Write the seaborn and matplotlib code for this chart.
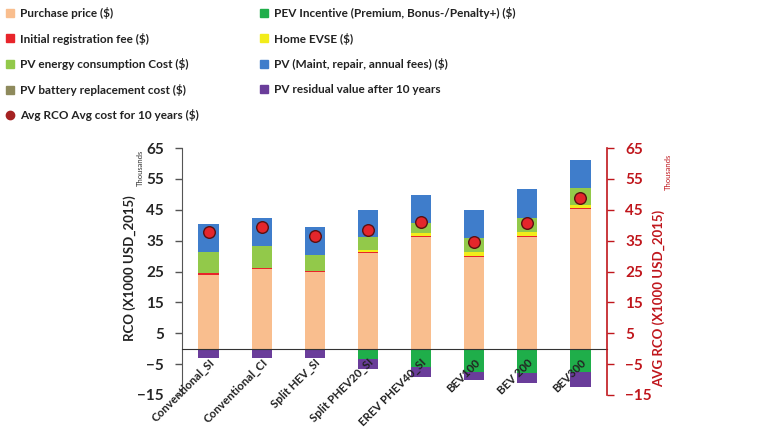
import numpy as np
import pandas as pd
import seaborn as sns
import matplotlib.pyplot as plt
from matplotlib.lines import Line2D

# vehicle types
vehicles = ['Conventional_SI', 'Conventional_CI', 'Split HEV_SI', 'Split PHEV20_SI',
            'EREV PHEV40_SI', 'BEV100', 'BEV 200', 'BEV300']

# cost components (thousand USD_2015)
purchase = [23.8, 25.7, 24.8, 30.9, 36.1, 29.7, 36.1, 45.4]
registration = [0.6, 0.5, 0.3, 0.3, 0.3, 0.3, 0.3, 0.3]
home_evse = [0.0, 0.0, 0.0, 0.9, 1.1, 1.3, 1.4, 0.7]
energy = [6.9, 7.2, 5.2, 4.0, 3.3, 4.6, 4.6, 5.7]
battery = [0.0, 0.0, 0.0, 0.0, 0.0, 0.0, 0.0, 0.0]
maint = [9.2, 9.0, 9.2, 8.7, 8.9, 8.9, 9.2, 8.9]
incentive = [0.0, 0.0, 0.0, -3.5, -5.8, -7.6, -7.8, -7.6]
residual = [-2.9, -2.9, -3.0, -3.0, -3.4, -2.5, -3.2, -4.7]
avg_rco = [37.8, 39.5, 36.5, 38.4, 41.0, 34.5, 40.6, 48.9]

c_purchase = '#F9BE8E'
c_reg = '#E8242A'
c_evse = '#F2EC1A'
c_energy = '#92C94A'
c_battery = '#8E8A5C'
c_maint = '#3F7DCB'
c_incent = '#1FAE4A'
c_resid = '#6A3D9A'
c_avg = '#A52222'
red_axis = '#C0161C'

sns.set_style('white')
plt.rcParams['font.family'] = ['Lato', 'DejaVu Sans']

fig = plt.figure(figsize=(7.69, 4.33), dpi=100)
ax = fig.add_axes([0.2367, 0.0878, 0.5526, 0.5702])
ax.set_axisbelow(False)

df = pd.DataFrame({'vehicle': vehicles})
bw = 0.38

# positive stack
bottom = np.zeros(len(vehicles))
for vals, col in [(purchase, c_purchase), (registration, c_reg), (home_evse, c_evse),
                  (energy, c_energy), (battery, c_battery), (maint, c_maint)]:
    vals = np.array(vals)
    sns.barplot(x=df['vehicle'], y=vals, bottom=bottom, color=col, width=bw,
                saturation=1, ax=ax, linewidth=0)
    bottom = bottom + vals

# negative stack
bottom = np.zeros(len(vehicles))
for vals, col in [(incentive, c_incent), (residual, c_resid)]:
    vals = np.array(vals)
    sns.barplot(x=df['vehicle'], y=vals, bottom=bottom, color=col, width=bw,
                saturation=1, ax=ax, linewidth=0)
    bottom = bottom + vals

ax.set_xlim(-0.5, len(vehicles) - 0.5)
ax.set_ylim(-15, 65)
ax.set_yticks(np.arange(-15, 66, 10))
ax.set_xlabel('')
ax.set_ylabel('')

for s in ['top', 'right']:
    ax.spines[s].set_visible(False)
ax.spines['bottom'].set_position(('data', 0))
ax.spines['bottom'].set_color('#333333')
ax.spines['left'].set_color('#555555')

ax.tick_params(axis='y', direction='out', length=5, width=1, color='#555555',
               labelsize=11, pad=8)
for t in ax.get_yticklabels():
    t.set_fontweight('bold')

ax.set_xticks(range(len(vehicles)))
ax.set_xticklabels(vehicles, rotation=45, ha='right', rotation_mode='anchor',
                   fontsize=8.3, fontweight='bold', color='#222222')
ax.tick_params(axis='x', which='major', length=0, pad=6)
ax.set_xticks(np.arange(0.5, len(vehicles) - 0.5, 1), minor=True)
ax.tick_params(axis='x', which='minor', direction='inout', length=5, width=1,
               color='#333333')

# secondary axis for average
ax2 = ax.twinx()
ax2.set_ylim(-15, 65)
ax2.set_yticks(np.arange(-15, 66, 10))
sns.scatterplot(x=np.arange(len(vehicles)), y=avg_rco, ax=ax2, s=70,
                color='#E4262B', edgecolor='#5A1010', linewidth=1, zorder=5)
ax2.set_xlim(-0.5, len(vehicles) - 0.5)
for s in ['top', 'left', 'bottom']:
    ax2.spines[s].set_visible(False)
ax2.spines['right'].set_color(red_axis)
ax2.spines['right'].set_linewidth(1.2)
ax2.tick_params(axis='y', direction='out', length=5, width=1, color=red_axis,
                labelcolor=red_axis, labelsize=11, pad=8)
for t in ax2.get_yticklabels():
    t.set_fontweight('bold')
ax2.set_ylabel('')

# axis titles
fig.text(130 / 769, 1 - 268 / 433, 'RCO (X1000 USD_2015)', rotation=90,
         ha='center', va='center', fontsize=9.5, fontweight='bold', color='#222222')
fig.text(140 / 769, 1 - 168 / 433, 'Thousands', rotation=90,
         ha='center', va='center', fontsize=5.5, color='#333333')
fig.text(659 / 769, 1 - 298 / 433, 'AVG RCO (X1000 USD_2015)', rotation=90,
         ha='center', va='center', fontsize=9.5, fontweight='bold', color=red_axis)
fig.text(668 / 769, 1 - 172 / 433, 'Thousands', rotation=90,
         ha='center', va='center', fontsize=5.5, color=red_axis)

# legend
def sq(c):
    return Line2D([], [], marker='s', linestyle='none', markersize=6,
                  markerfacecolor=c, markeredgecolor=c)

h1 = [sq(c_purchase), sq(c_reg), sq(c_energy), sq(c_battery),
      Line2D([], [], marker='o', linestyle='none', markersize=6,
             markerfacecolor=c_avg, markeredgecolor=c_avg)]
l1 = ['Purchase price ($)', 'Initial registration fee ($)',
      'PV energy consumption Cost ($)', 'PV battery replacement cost ($)',
      'Avg RCO Avg cost for 10 years ($)']
h2 = [sq(c_incent), sq(c_evse), sq(c_maint), sq(c_resid)]
l2 = ['PEV Incentive (Premium, Bonus-/Penalty+) ($)', 'Home EVSE ($)',
      'PV (Maint, repair, annual fees) ($)', 'PV residual value after 10 years']

leg_kw = dict(frameon=False, handlelength=0.6, handletextpad=0.6,
              labelspacing=1.15, borderaxespad=0, borderpad=0,
              prop={'size': 8.5, 'weight': 'bold'})
leg1 = fig.legend(h1, l1, loc='upper left', bbox_to_anchor=(6 / 769, 1 - 7 / 433), **leg_kw)
leg2 = fig.legend(h2, l2, loc='upper left', bbox_to_anchor=(260 / 769, 1 - 7 / 433), **leg_kw)
for leg in (leg1, leg2):
    for t in leg.get_texts():
        t.set_color('#222222')

fig.savefig('out.png', dpi=100)
